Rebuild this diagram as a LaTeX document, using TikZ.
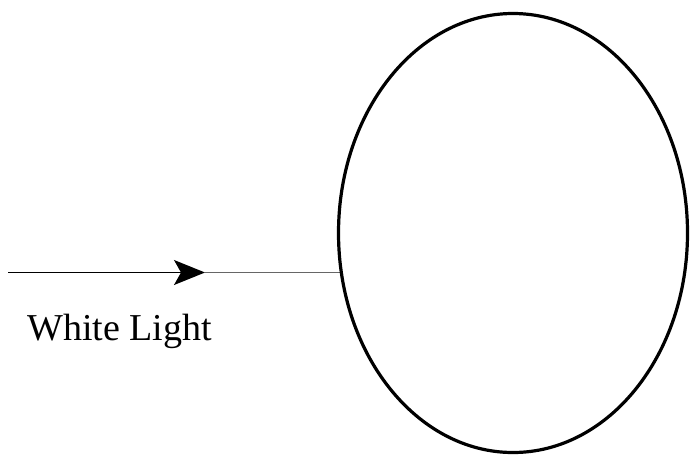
\documentclass[tikz,border=0pt]{standalone}
\usepackage{fontspec}
\setmainfont{Liberation Serif}
\usetikzlibrary{positioning, shapes.geometric, arrows.meta, backgrounds}

\begin{document}
\begin{tikzpicture}[
    x=1pt, y=-1pt,
    dropShape/.style={draw=black, line width=3.2pt, ellipse, fill=white, inner sep=0pt, minimum width=349pt, minimum height=439pt},
    lightRay/.style={draw=black, line width=1.4pt, -{Stealth[length=31pt, width=25pt, inset=7pt]}},
    rayTail/.style={draw=black!60, line width=1pt},
    rayLabel/.style={anchor=base west, inner sep=0pt, font=\fontsize{38}{42}\selectfont},
]
\useasboundingbox (0,0) rectangle (692,456);
\node[dropShape] (drop) at (513, 233) {};
\coordinate (src) at (8, 272.5);
\coordinate (tip) at (205, 272.5);
\draw[lightRay] (src) -- (tip);
\begin{scope}[on background layer]
\draw[rayTail] (tip) -- (src -| drop.center);
\end{scope}
\node[rayLabel] (label) at (27, 340) {White Light};
\end{tikzpicture}
\end{document}
